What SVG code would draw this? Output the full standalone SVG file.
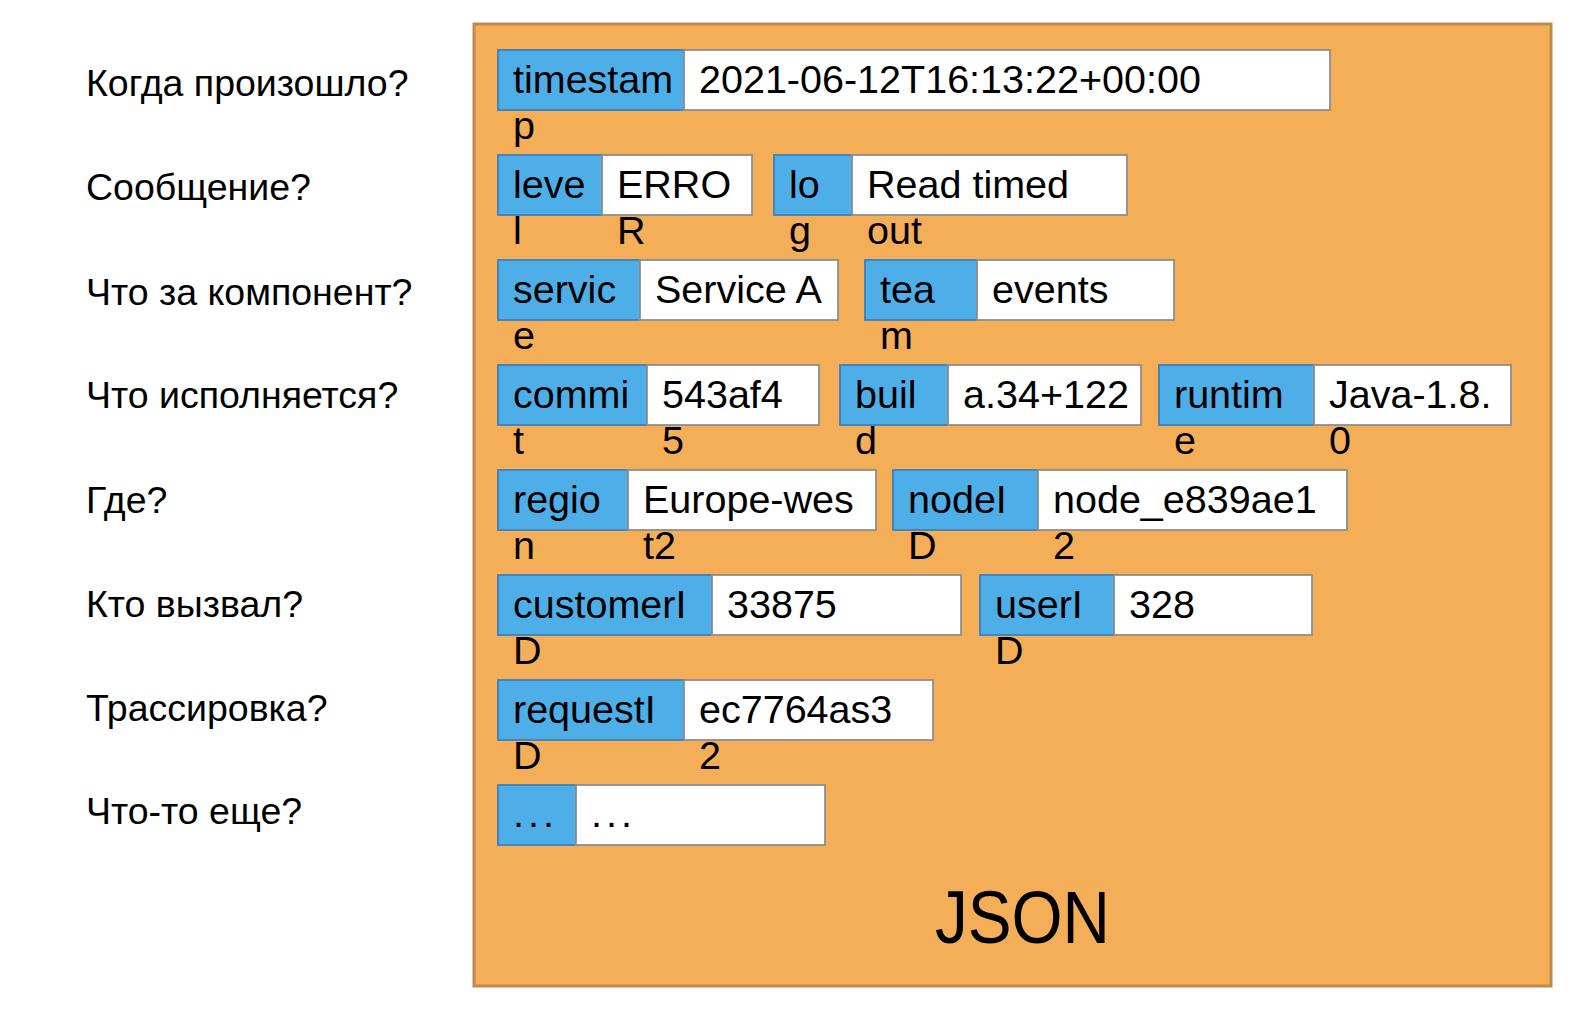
<svg xmlns="http://www.w3.org/2000/svg" width="1590" height="1020" viewBox="0 0 1590 1020">
<style>
.bg{fill:#ffffff}
.frame{fill:#f3ae57;stroke:#bf8a4c;stroke-width:3}
.k{fill:#4daee8;stroke:#3c80c2;stroke-width:1.8}
.v{fill:#ffffff;stroke:#8e8e8e;stroke-width:1.8}
.t{font-family:"Liberation Sans",Arial,sans-serif;font-size:39.5px;fill:#000}
.q{font-family:"Liberation Sans",Arial,sans-serif;font-size:37.5px;fill:#000}
.json{font-family:"Liberation Sans",Arial,sans-serif;font-size:74px;fill:#000}
</style>
<rect class="bg" x="0" y="0" width="1590" height="1020"/>
<g id="json-frame">
<rect class="frame" x="474" y="24" width="1077" height="962"/>
<text class="json" x="935" y="943" textLength="175" lengthAdjust="spacingAndGlyphs">JSON</text>
</g>
<g id="questions">
<text class="q" x="86" y="96">Когда произошло?</text>
<text class="q" x="86" y="200">Сообщение?</text>
<text class="q" x="86" y="305">Что за компонент?</text>
<text class="q" x="86" y="408">Что исполняется?</text>
<text class="q" x="86" y="513">Где?</text>
<text class="q" x="86" y="617">Кто вызвал?</text>
<text class="q" x="86" y="721">Трассировка?</text>
<text class="q" x="86" y="824">Что-то еще?</text>
</g>
<g id="connectors"/>
<g id="field-timestamp">
<rect class="k" x="498" y="50" width="186" height="60"/>
<rect class="v" x="684" y="50" width="646" height="60"/>
<text class="t" x="513" y="93">timestam<tspan x="513" y="139">p</tspan></text>
<text class="t" x="699" y="93">2021-06-12T16:13:22+00:00</text>
</g>
<g id="field-level">
<rect class="k" x="498" y="155" width="104" height="60"/>
<rect class="v" x="602" y="155" width="150" height="60"/>
<text class="t" x="513" y="198">leve<tspan x="513" y="244">l</tspan></text>
<text class="t" x="617" y="198">ERRO<tspan x="617" y="244">R</tspan></text>
</g>
<g id="field-log">
<rect class="k" x="774" y="155" width="78" height="60"/>
<rect class="v" x="852" y="155" width="275" height="60"/>
<text class="t" x="789" y="198">lo<tspan x="789" y="244">g</tspan></text>
<text class="t" x="867" y="198">Read timed<tspan x="867" y="244">out</tspan></text>
</g>
<g id="field-service">
<rect class="k" x="498" y="260" width="142" height="60"/>
<rect class="v" x="640" y="260" width="198" height="60"/>
<text class="t" x="513" y="303">servic<tspan x="513" y="349">e</tspan></text>
<text class="t" x="655" y="303">Service A</text>
</g>
<g id="field-team">
<rect class="k" x="865" y="260" width="112" height="60"/>
<rect class="v" x="977" y="260" width="197" height="60"/>
<text class="t" x="880" y="303">tea<tspan x="880" y="349">m</tspan></text>
<text class="t" x="992" y="303">events</text>
</g>
<g id="field-commit">
<rect class="k" x="498" y="365" width="149" height="60"/>
<rect class="v" x="647" y="365" width="172" height="60"/>
<text class="t" x="513" y="408">commi<tspan x="513" y="454">t</tspan></text>
<text class="t" x="662" y="408">543af4<tspan x="662" y="454">5</tspan></text>
</g>
<g id="field-build">
<rect class="k" x="840" y="365" width="108" height="60"/>
<rect class="v" x="948" y="365" width="193" height="60"/>
<text class="t" x="855" y="408">buil<tspan x="855" y="454">d</tspan></text>
<text class="t" x="963" y="408">a.34+122</text>
</g>
<g id="field-runtime">
<rect class="k" x="1159" y="365" width="155" height="60"/>
<rect class="v" x="1314" y="365" width="197" height="60"/>
<text class="t" x="1174" y="408">runtim<tspan x="1174" y="454">e</tspan></text>
<text class="t" x="1329" y="408">Java-1.8.<tspan x="1329" y="454">0</tspan></text>
</g>
<g id="field-region">
<rect class="k" x="498" y="470" width="130" height="60"/>
<rect class="v" x="628" y="470" width="248" height="60"/>
<text class="t" x="513" y="513">regio<tspan x="513" y="559">n</tspan></text>
<text class="t" x="643" y="513">Europe-wes<tspan x="643" y="559">t2</tspan></text>
</g>
<g id="field-nodeid">
<rect class="k" x="893" y="470" width="145" height="60"/>
<rect class="v" x="1038" y="470" width="309" height="60"/>
<text class="t" x="908" y="513">nodeI<tspan x="908" y="559">D</tspan></text>
<text class="t" x="1053" y="513">node_e839ae1<tspan x="1053" y="559">2</tspan></text>
</g>
<g id="field-customerid">
<rect class="k" x="498" y="575" width="214" height="60"/>
<rect class="v" x="712" y="575" width="249" height="60"/>
<text class="t" x="513" y="618">customerI<tspan x="513" y="664">D</tspan></text>
<text class="t" x="727" y="618">33875</text>
</g>
<g id="field-userid">
<rect class="k" x="980" y="575" width="134" height="60"/>
<rect class="v" x="1114" y="575" width="198" height="60"/>
<text class="t" x="995" y="618">userI<tspan x="995" y="664">D</tspan></text>
<text class="t" x="1129" y="618">328</text>
</g>
<g id="field-requestid">
<rect class="k" x="498" y="680" width="186" height="60"/>
<rect class="v" x="684" y="680" width="249" height="60"/>
<text class="t" x="513" y="723">requestI<tspan x="513" y="769">D</tspan></text>
<text class="t" x="699" y="723">ec7764as3<tspan x="699" y="769">2</tspan></text>
</g>
<g id="field-more">
<rect class="k" x="498" y="785" width="78" height="60"/>
<rect class="v" x="576" y="785" width="249" height="60"/>
<text class="t" x="513" y="827" letter-spacing="4">...</text>
<text class="t" x="591" y="827" letter-spacing="4">...</text>
</g>
</svg>
